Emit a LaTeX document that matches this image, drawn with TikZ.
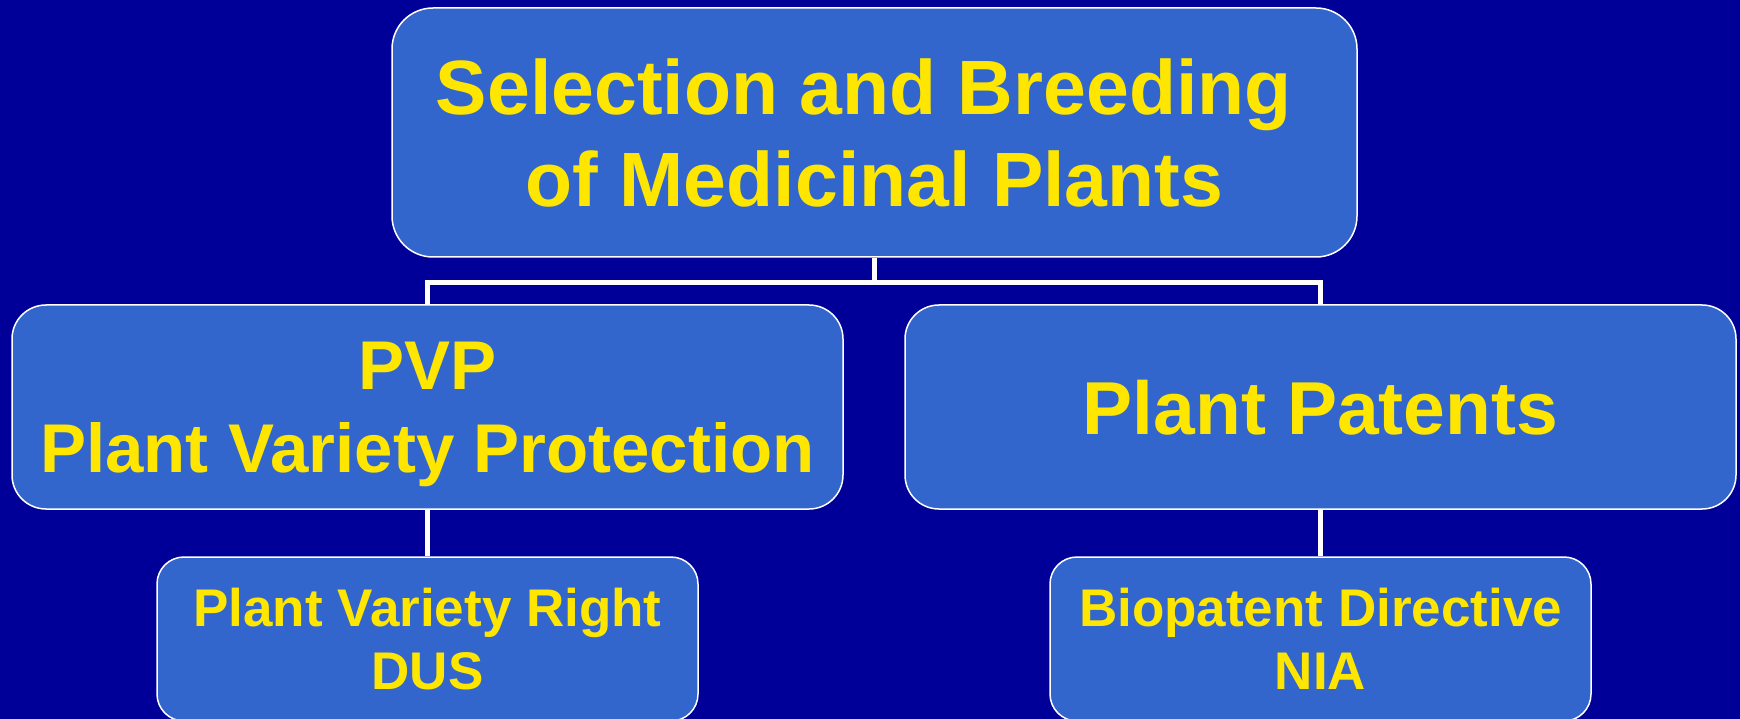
\documentclass[tikz,border=0pt]{standalone}
\usepackage{fontspec}
\setmainfont{Liberation Sans}
\usepackage{tikz}
\usetikzlibrary{positioning}
\definecolor{mpnavy}   {HTML}{000099}
\definecolor{mpblue}   {HTML}{3366CC}
\definecolor{mpgold}   {HTML}{FFE600}
\tikzset{
  mpbox/.style={draw=white, fill=mpblue, line width=1.5pt, text=mpgold,
                align=center, inner sep=0pt, text depth=0pt},
  mptop/.style={mpbox, minimum width=965pt, minimum height=249pt, rounded corners=41pt,
                font=\bfseries\fontsize{77}{92}\selectfont},
  mpmid/.style={mpbox, minimum width=831pt, minimum height=204pt, rounded corners=34pt},
  mplow/.style={mpbox, minimum width=541pt, minimum height=164pt, rounded corners=27pt,
                font=\bfseries\fontsize{53}{63}\selectfont},
  mplink/.style={draw=white, line width=5pt},
}

\begin{document}
\begin{tikzpicture}[x=1pt,y=-1pt]
  \fill[mpnavy] (0,0) rectangle (1740,719);
  \useasboundingbox (0,0) rectangle (1740,719);
  \node[mptop] (sel) at (874.5,132.5) {Selection and Breeding\kern.278em\\of Medicinal Plants};
  \node[mpmid, font=\bfseries\fontsize{69}{83}\selectfont] (pvp) at (427.5,407)
    {PVP\\Plant Variety Protection};
  \node[mpmid, font=\bfseries\fontsize{75}{90}\selectfont] (pat) at (1320.5,407)
    {Plant Patents};
  \node[mplow] (pvr) at (427.5,639) {Plant Variety Right\\DUS};
  \node[mplow] (bio) at (1320.5,639) {Biopatent Directive\\NIA};
  \foreach \n in {pvp,pat}
    {\draw[mplink] (sel.south) -- ++(0,25) -| (\n.north);}
  \foreach \a/\b in {pvp/pvr,pat/bio}
    {\draw[mplink] (\a.south) -- (\b.north);}
\end{tikzpicture}
\end{document}
